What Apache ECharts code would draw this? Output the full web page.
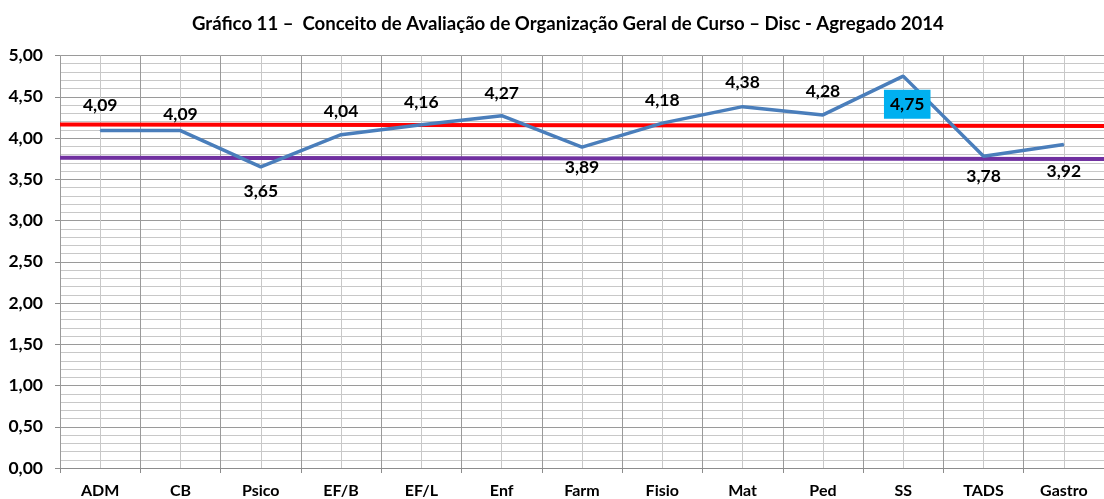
<!DOCTYPE html>
<html>
<head>
<meta charset="utf-8">
<script src="https://cdn.jsdelivr.net/npm/echarts@6/dist/echarts.min.js"></script>
<style>
html,body{margin:0;padding:0;background:#fff;}
#chart{width:1104px;height:499px;}
</style>
</head>
<body>
<div id="chart"></div>
<script>
//dados do gráfico
var cursos = ["ADM","CB","Psico","EF/B","EF/L","Enf","Farm","Fisio","Mat","Ped","SS","TADS","Gastro"];
var conceitos = [4.09,4.09,3.65,4.04,4.16,4.27,3.89,4.18,4.38,4.28,4.75,3.78,3.92];
//linhas de referência (início e fim)
var linhaVermelha = [4.165,4.145];
var linhaRoxa = [3.760,3.745];
var yTicks = [0,0.5,1,1.5,2,2.5,3,3.5,4,4.5,5];

var fonte = "Lato";

//deslocamento dos rótulos (x, y) em relação ao ponto
var deslocamentos = [[0,-25],[0,-16],[0,24],[0,-23],[0,-22],[0,-22],[0,20],[0,-23],[0,-24],[0,-24],[4,28],[0,20],[0,27]];

var pontos = [];
for (var i = 0; i < conceitos.length; i++) {
    var lbl = {offset: deslocamentos[i]};
    if (cursos[i] == "SS") {
        lbl.backgroundColor = "#00B0F0";
        lbl.padding = [5,6,5,6];
        lbl.lineHeight = 19;
    }
    pontos.push({value: conceitos[i], label: lbl});
}

var chart = echarts.init(document.getElementById('chart'));
var option = {
    animation: false,
    title: {
        text: "Gráfico 11 –  Conceito de Avaliação de Organização Geral de Curso – Disc - Agregado 2014",
        left: 187,
        top: 9,
        textStyle: {fontFamily: fonte, fontSize: 18.6, fontWeight: 'bold', color: '#000'}
    },
    grid: {left: 60, top: 55.5, right: -7.5, bottom: 30.7},
    xAxis: [{
        type: 'category',
        data: cursos,
        boundaryGap: true,
        axisLine: {lineStyle: {color: '#8c8c8c'}},
        axisTick: {show: true, length: 5, lineStyle: {color: '#8c8c8c'}},
        axisLabel: {margin: 15, color: '#000', fontFamily: fonte, fontSize: 16, fontWeight: 'bold'},
        splitLine: {show: true, lineStyle: {color: '#9a9a9a', width: 1}},
        z: 3
    }, {
        //eixo auxiliar para as linhas do meio e as linhas de referência
        type: 'value',
        min: 0,
        max: 26,
        interval: 1,
        show: true,
        position: 'top',
        axisLine: {show: false},
        axisTick: {show: false},
        axisLabel: {show: false},
        splitLine: {show: true, lineStyle: {color: '#c8c8c8', width: 1}},
        z: 1
    }],
    yAxis: {
        type: 'value',
        min: 0,
        max: 5,
        interval: 0.5,
        axisLine: {show: true, lineStyle: {color: '#8c8c8c'}},
        axisTick: {show: true, length: 5, lineStyle: {color: '#8c8c8c'}},
        axisLabel: {
            margin: 17,
            color: '#000',
            fontFamily: fonte,
            fontSize: 17.5,
            fontWeight: 'bold',
            formatter: function (v) { return v.toFixed(2).replace('.', ','); }
        },
        splitLine: {show: true, lineStyle: {color: '#9a9a9a', width: 1}},
        minorTick: {show: true, splitNumber: 5, length: 0},
        minorSplitLine: {show: true, lineStyle: {color: '#c8c8c8', width: 1}}
    },
    series: [{
        name: 'vermelha',
        type: 'line',
        xAxisIndex: 1,
        data: [[0, linhaVermelha[0]], [26, linhaVermelha[1]]],
        symbol: 'none',
        lineStyle: {color: '#ff0000', width: 4},
        z: 3
    }, {
        name: 'roxa',
        type: 'line',
        xAxisIndex: 1,
        data: [[0, linhaRoxa[0]], [26, linhaRoxa[1]]],
        symbol: 'none',
        lineStyle: {color: '#7030a0', width: 4},
        z: 3
    }, {
        name: 'Conceito',
        type: 'line',
        data: pontos,
        symbol: 'circle',
        symbolSize: 1,
        itemStyle: {color: '#4a7ebb'},
        lineStyle: {color: '#4a7ebb', width: 3.5},
        label: {
            show: true,
            position: 'inside',
            color: '#000',
            fontFamily: fonte,
            fontSize: 17.5,
            fontWeight: 'bold',
            formatter: function (p) { return p.value.toFixed(2).replace('.', ','); }
        },
        z: 4
    }]
};
chart.setOption(option);
</script>
</body>
</html>
